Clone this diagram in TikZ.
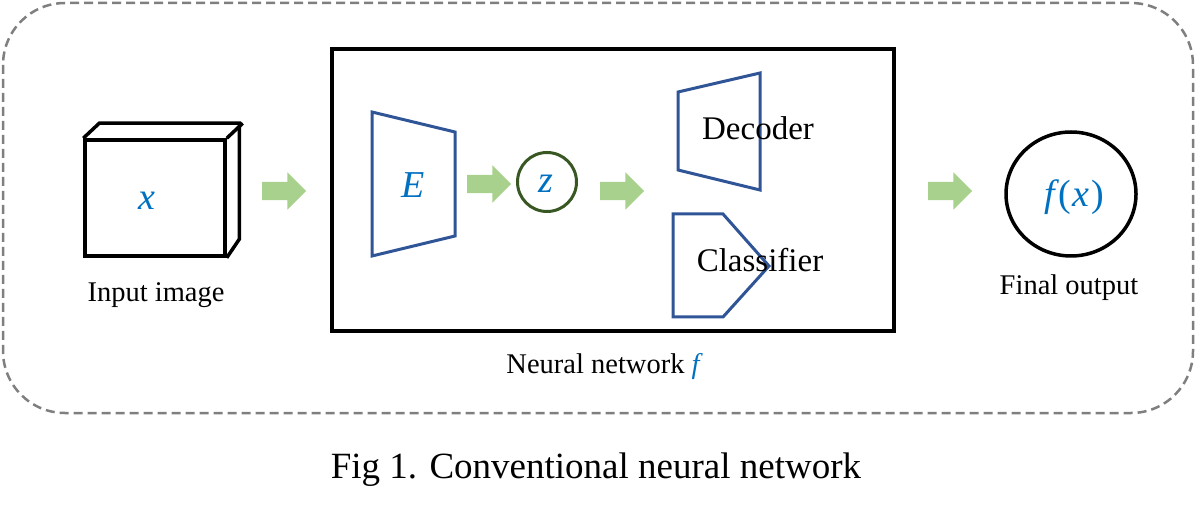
\documentclass[tikz,border=0pt]{standalone}
\usepackage{fontspec}
\setmainfont{Liberation Serif}
\newfontfamily\varfont{Liberation Serif}
\usetikzlibrary{shapes.arrows,shapes.geometric}
\definecolor{nblue}{HTML}{2F5597}
\definecolor{tblue}{HTML}{0070C0}
\definecolor{zgreen}{HTML}{385723}
\definecolor{agreen}{HTML}{A9D18E}
\definecolor{dgray}{HTML}{7F7F7F}
\newcommand{\myvar}[1]{{\varfont\itshape #1}}
\newcommand{\myup}[1]{{\varfont #1}}
\begin{document}
\begin{tikzpicture}[x=1pt,y=-1pt,
  garrow/.style={single arrow, fill=agreen, draw=none, minimum height=44pt,
    inner xsep=0pt, inner ysep=9pt, single arrow head extend=9.5pt, outer sep=0pt, anchor=tail},
  lbl/.style={font=\fontsize{28.5}{30}\selectfont, inner sep=0pt},
  blk/.style={font=\fontsize{33}{35}\selectfont, inner sep=0pt},
  mth/.style={font=\fontsize{38}{40}\selectfont, text=tblue, inner sep=0pt},
  netshape/.style={draw=nblue, line width=3pt, line join=miter},
  blackline/.style={draw=black, line width=3.5pt},
]
\useasboundingbox (0,0) rectangle (1196,510);
% outer dashed container
\draw[dgray, line width=2.5pt, dash pattern=on 9pt off 5pt, rounded corners=62pt]
  (3,3) rectangle (1193,413);

% input image (3D box)
\node[blackline, minimum width=140pt, minimum height=116pt, inner sep=0pt] (img) at (155,198) {};
\draw[blackline, line join=miter] (img.north west) -- ++(16,-15) -- ++(140,0) -- ++(0,116) -- (img.south east);
\draw[blackline, line join=miter] (img.north east) -- ++(16,-15);
\node[mth] (xl) at (147,201) {\myvar{x}};
\node[lbl, anchor=base] (inlbl) at (156,302) {Input image};

% arrow 1
\node[garrow] (a1) at (262,191) {};

% neural network frame
\node[blackline, minimum width=562pt, minimum height=282pt, inner sep=0pt] (nn) at (613,190) {};
\node[lbl, anchor=base] (nnlbl) at (603,373) {Neural network {\color{tblue}\myvar{f}}};

% encoder
\draw[netshape] (372,112) -- (455,132) -- (455,236) -- (372,256) -- cycle;
\node[mth] (E) at (413,185) {\myvar{E}};

% arrow 2
\node[garrow] (a2) at (467,184) {};

% latent z
\node[circle, draw=zgreen, line width=3pt, minimum size=59pt, inner sep=0pt] (z) at (547,182) {};
\node[mth] (zl) at (546,184) {\myvar{z}};

% arrow 3
\node[garrow] (a3) at (600,191) {};

% decoder
\draw[netshape] (678,92) -- (760,73) -- (760,190) -- (678,170) -- cycle;
\node[blk, anchor=base] (dec) at (758,140) {Decoder};

% classifier
\draw[netshape] (673,214) -- (723,214) -- (769,266) -- (723,317) -- (673,317) -- cycle;
\node[blk, anchor=base] (cls) at (760,272) {Classifier};

% arrow 4
\node[garrow] (a4) at (928,191) {};

% final output
\node[ellipse, blackline, minimum width=130pt, minimum height=124pt, inner sep=0pt] (out) at (1071,194) {};
\node[mth] (fx) at (1074,197) {\myvar{f}\kern4pt\myup{(}\kern1pt\myvar{x}\kern2pt\myup{)}};
\node[lbl, anchor=base] (outlbl) at (1069,295) {Final output};

% caption
\node[font=\fontsize{37}{40}\selectfont, inner sep=0pt, anchor=base] (cap) at (596,478) {Fig 1. Conventional neural network};
\end{tikzpicture}
\end{document}
